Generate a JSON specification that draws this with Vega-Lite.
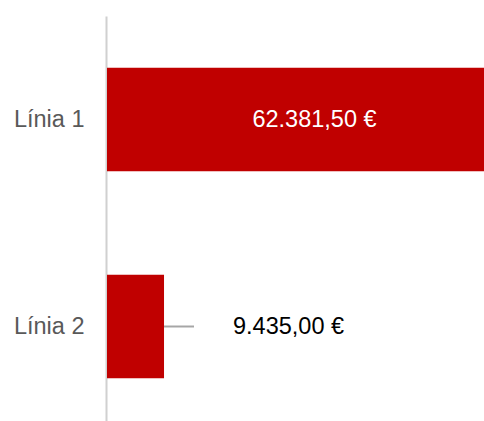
{
  "$schema": "https://vega.github.io/schema/vega-lite/v6.json",
  "autosize": "none",
  "width": 377,
  "height": 414,
  "padding": {"left": 107, "top": 16, "right": 0, "bottom": 0},
  "background": "white",
  "config": {"view": {"stroke": null}, "font": "Liberation Sans"},
  "data": {"values": [
    {"linia": "Línia 1", "valor": 62381.5, "etiqueta": "62.381,50 €", "dins": true},
    {"linia": "Línia 2", "valor": 9435.0, "etiqueta": "9.435,00 €", "dins": false}
  ]},
  "encoding": {
    "y": {"field": "linia", "type": "nominal", "sort": null,
      "scale": {"paddingInner": 0.5, "paddingOuter": 0.25},
      "axis": {"title": null, "ticks": false, "domainColor": "#d0d0d0", "domainWidth": 2, "offset": 1,
        "labelFontSize": 23.5, "labelColor": "#595959", "labelPadding": 22, "labelFont": "Liberation Sans"}},
    "x": {"field": "valor", "type": "quantitative", "scale": {"domain": [0, 62381.5], "nice": false}, "axis": null}
  },
  "layer": [
    {"mark": {"type": "bar", "color": "#c00000"}},
    {"transform": [{"filter": "datum.dins"}],
     "mark": {"type": "text", "align": "center", "color": "white", "fontSize": 23.5, "dx": 19},
     "encoding": {"text": {"field": "etiqueta"}, "x": {"datum": 31190.75}}},
    {"transform": [{"filter": "!datum.dins"}],
     "mark": {"type": "rule", "color": "#a6a6a6", "strokeWidth": 2, "x2Offset": 30},
     "encoding": {"x2": {"field": "valor"}}},
    {"transform": [{"filter": "!datum.dins"}],
     "mark": {"type": "text", "align": "left", "color": "black", "fontSize": 23.5, "dx": 69},
     "encoding": {"text": {"field": "etiqueta"}}}
  ]
}
